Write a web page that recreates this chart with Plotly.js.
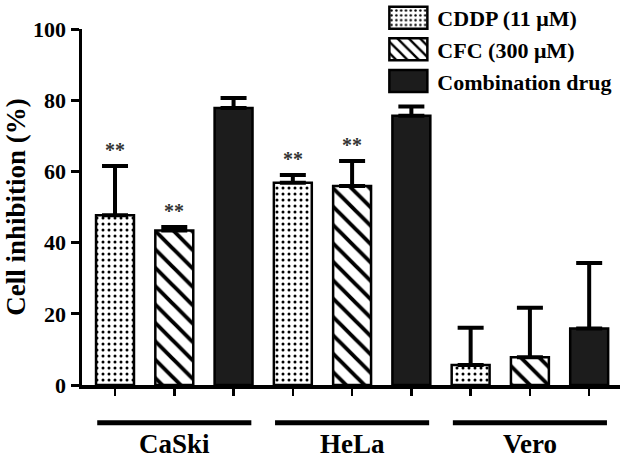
<!DOCTYPE html>
<html>
<head>
<meta charset="utf-8">
<script src="https://cdn.plot.ly/plotly-3.0.1.min.js"></script>
<style>
  html, body { margin: 0; padding: 0; background: #fff; }
  #chart { width: 630px; height: 462px; }
</style>
</head>
<body>
<div id="chart"></div>
<script>
// cell lines (groups along the x axis)
var groups = ['CaSki', 'HeLa', 'Vero'];

// mean inhibition (%) and upper error per cell line
var cddp = [47.7, 56.8, 5.6];
var cddpErr = [13.8, 2.2, 10.5];
var cfc = [43.4, 55.9, 7.8];
var cfcErr = [1.0, 7.0, 13.9];
var combo = [77.8, 75.6, 15.9];
var comboErr = [2.8, 2.6, 18.4];

// ** markers
var cddpSig = ['**', '**', ''];
var cfcSig = ['**', '**', ''];

var serif = 'Liberation Serif, Times New Roman, serif';
var nSeries = 3;

function pos(k) {
    return groups.map(function (g, i) { return i * nSeries + k; });
}
function zeros(a) { return a.map(function () { return 0; }); }

function barTrace(name, y, err, k, marker) {
    return {
        type: 'bar', name: name,
        x: pos(k), y: y, width: 0.64,
        marker: marker,
        error_y: {type: 'data', symmetric: false, array: err, arrayminus: zeros(err),
                  color: '#000', thickness: 4, width: 13},
        hoverinfo: 'skip'
    };
}

var data = [
    barTrace('CDDP (11 \u03bcM)', cddp, cddpErr, 0, {
        color: '#fff', line: {color: '#000', width: 2.5},
        pattern: {shape: '.', fgcolor: '#000', bgcolor: '#fff', size: 6, solidity: 0.2}
    }),
    barTrace('CFC (300 \u03bcM)', cfc, cfcErr, 1, {
        color: '#fff', line: {color: '#000', width: 2.5},
        pattern: {shape: '\\', fgcolor: '#000', bgcolor: '#fff', size: 13, solidity: 0.3}
    }),
    barTrace('Combination drug', combo, comboErr, 2, {
        color: '#1c1c1c', line: {color: '#000', width: 2.5}
    })
];

// asterisks above error bars
var annotations = [];
function addStars(sig, y, err, k) {
    sig.forEach(function (s, i) {
        if (!s) return;
        annotations.push({
            x: i * nSeries + k, y: y[i] + err[i], xref: 'x', yref: 'y',
            text: s, showarrow: false, yanchor: 'middle', yshift: 16,
            font: {family: serif, size: 20, color: '#333', weight: 'bold'}
        });
    });
}
addStars(cddpSig, cddp, cddpErr, 0);
addStars(cfcSig, cfc, cfcErr, 1);

// group lines and labels under the axis
var shapes = [];
groups.forEach(function (g, i) {
    var c = i * nSeries + (nSeries - 1) / 2;
    shapes.push({
        type: 'line', xref: 'x', yref: 'paper',
        x0: c - 1.3, x1: c + 1.3, y0: -0.106, y1: -0.106,
        line: {color: '#000', width: 5}
    });
    annotations.push({
        x: c, y: -0.165, xref: 'x', yref: 'paper',
        text: g, showarrow: false, yanchor: 'middle',
        font: {family: serif, size: 27, color: '#000', weight: 'bold'}
    });
});

var layout = {
    width: 630, height: 462,
    margin: {l: 82, r: 10, t: 29, b: 77, autoexpand: false},
    paper_bgcolor: '#fff', plot_bgcolor: '#fff',
    font: {family: serif, color: '#000', weight: 'bold'},
    showlegend: true,
    legend: {
        x: 0.549, y: 1.09, xanchor: 'left', yanchor: 'top',
        bgcolor: 'rgba(0,0,0,0)', tracegroupgap: 0, itemwidth: 50,
        font: {family: serif, size: 22, color: '#000', weight: 'bold'}
    },
    barmode: 'overlay',
    xaxis: {
        range: [-0.557, 8.52],
        showgrid: false, zeroline: false,
        showline: true, linecolor: '#000', linewidth: 3.5,
        tickmode: 'array', tickvals: pos(0).concat(pos(1), pos(2)),
        ticks: 'outside', ticklen: 7, tickwidth: 2.5, tickcolor: '#000',
        showticklabels: false
    },
    yaxis: {
        range: [0, 100],
        showgrid: false, zeroline: false,
        showline: true, linecolor: '#000', linewidth: 3.5,
        tickvals: [0, 20, 40, 60, 80, 100],
        ticks: 'outside', ticklen: 8, tickwidth: 3, tickcolor: '#000',
        tickfont: {family: serif, size: 22, color: '#000', weight: 'bold'},
        title: {text: 'Cell inhibition (%)', standoff: 0,
                font: {family: serif, size: 27, color: '#000', weight: 'bold'}}
    },
    shapes: shapes,
    annotations: annotations
};

Plotly.newPlot('chart', data, layout, {displayModeBar: false, staticPlot: true}).then(function (gd) {
    // widen the legend keys into boxes like the original, placed just left of the text
    gd.querySelectorAll('.legend .traces').forEach(function (item) {
        var txt = item.querySelector('.legendtext');
        var tx = txt ? parseFloat(txt.getAttribute('x')) : 40;
        item.querySelectorAll('.legendpoints path').forEach(function (p) {
            p.setAttribute('d', 'M19,11H-19V-11H19Z');
            p.setAttribute('transform', 'translate(' + (tx - 29) + ',0)');
        });
    });
});
</script>
</body>
</html>
